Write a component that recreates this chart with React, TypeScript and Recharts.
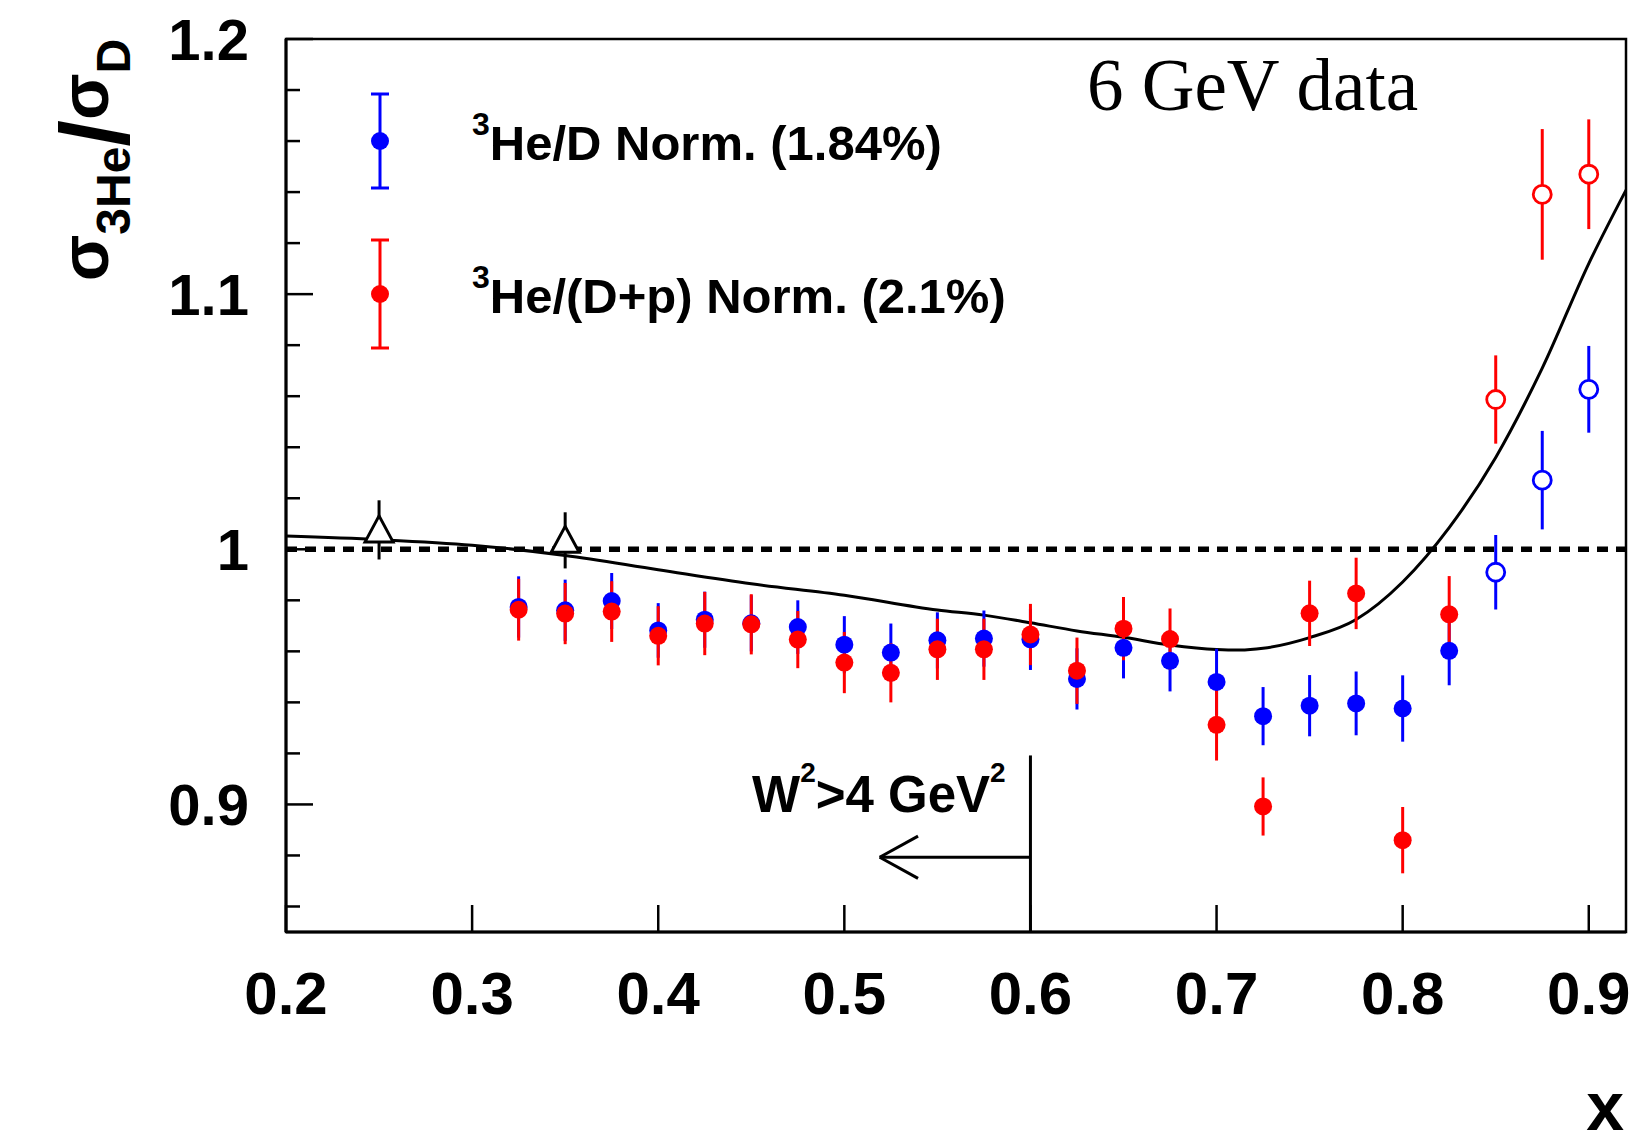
import React from 'react';
import {
  ComposedChart,
  Scatter,
  Line,
  XAxis,
  YAxis,
  ReferenceLine,
  ReferenceArea,
  ErrorBar,
  Customized,
} from 'recharts';

const BLUE = '#0000ff';
const RED = '#ff0000';
const SANS = '"Liberation Sans", Arial, Helvetica, sans-serif';
const SERIF = '"Liberation Serif", "Times New Roman", serif';

// x bins of the filled points
const xBins = [0.325, 0.35, 0.375, 0.4, 0.425, 0.45, 0.475, 0.5, 0.525, 0.55, 0.575, 0.6, 0.625, 0.65, 0.675, 0.7, 0.725, 0.75, 0.775, 0.8, 0.825];
// 3He/D
const ratioD = [0.9774, 0.9761, 0.9797, 0.9682, 0.9724, 0.971, 0.9695, 0.9626, 0.9595, 0.9643, 0.965, 0.9647, 0.9492, 0.9614, 0.9563, 0.948, 0.9346, 0.9387, 0.9396, 0.9376, 0.9602];
const ratioDErr = [0.012, 0.012, 0.011, 0.0107, 0.011, 0.011, 0.0105, 0.0112, 0.0114, 0.011, 0.011, 0.012, 0.012, 0.012, 0.012, 0.013, 0.0114, 0.012, 0.0125, 0.013, 0.0135];
// 3He/(D+p)
const ratioDp = [0.9763, 0.9748, 0.9756, 0.9661, 0.9709, 0.9706, 0.9646, 0.9556, 0.9516, 0.9608, 0.9608, 0.9666, 0.9524, 0.9689, 0.9648, 0.9312, 0.8992, 0.9749, 0.9827, 0.886, 0.9745];
const ratioDpErr = [0.0121, 0.012, 0.0119, 0.0116, 0.0124, 0.0118, 0.0112, 0.012, 0.0116, 0.012, 0.012, 0.012, 0.013, 0.0124, 0.012, 0.014, 0.0114, 0.0128, 0.014, 0.013, 0.015];

// open points (high x)
const highX = [0.85, 0.875, 0.9];
const highD = [0.991, 1.0271, 1.0627];
const highDErr = [0.0146, 0.0193, 0.017];
const highDp = [1.0587, 1.1391, 1.147];
const highDpErr = [0.0173, 0.0256, 0.0215];

// triangles
const triX = [0.25, 0.35];
const triY = [1.0076, 1.0035];
const triErr = [0.0116, 0.011];

// model curve
const modelX = [0.2, 0.25, 0.3, 0.35, 0.4, 0.45, 0.5, 0.55, 0.575, 0.6, 0.625, 0.65, 0.675, 0.7, 0.7125, 0.725, 0.75, 0.775, 0.8, 0.825, 0.85, 0.875, 0.9, 0.92];
const modelY = [1.0052, 1.0038, 1.0016, 0.9976, 0.992, 0.9865, 0.982, 0.9762, 0.9742, 0.9712, 0.968, 0.9655, 0.9625, 0.9607, 0.9605, 0.9612, 0.9654, 0.9725, 0.9872, 1.0085, 1.036, 1.071, 1.112, 1.1408];

const xTicks = [0.2, 0.3, 0.4, 0.5, 0.6, 0.7, 0.8, 0.9];
const yTicks = [0.86, 0.88, 0.9, 0.92, 0.94, 0.96, 0.98, 1.0, 1.02, 1.04, 1.06, 1.08, 1.1, 1.12, 1.14, 1.16, 1.18, 1.2];

// W^2 > 4 GeV^2 cut marker
const cutX = 0.6;
const cutTop = 0.9192;
const arrowY = 0.8793;
const arrowTip = 0.519;
const headX = 0.5396;
const headDy = 0.0083;

const pts = (xs: number[], ys: number[], es: number[]) => xs.map((x, i) => ({ x, y: ys[i], err: es[i] }));

const dData = pts(xBins, ratioD, ratioDErr);
const dpData = pts(xBins, ratioDp, ratioDpErr);
const highDData = pts(highX, highD, highDErr);
const highDpData = pts(highX, highDp, highDpErr);
const triData = pts(triX, triY, triErr);
const modelData = modelX.map((x, i) => ({ x, y: modelY[i] }));

const filled = (color: string) => (p: any) => <circle cx={p.cx} cy={p.cy} r={9} fill={color} />;
const open = (color: string) => (p: any) => (
  <circle cx={p.cx} cy={p.cy} r={9} fill="#fff" stroke={color} strokeWidth={2.8} />
);
const triangle = (p: any) => (
  <polygon
    points={`${p.cx},${p.cy - 14} ${p.cx - 14},${p.cy + 12} ${p.cx + 14},${p.cy + 12}`}
    fill="#fff"
    stroke="#000"
    strokeWidth={3}
  />
);

const XTick = ({ x, y, payload }: any) => (
  <g>
    <line x1={x} x2={x} y1={y} y2={y - 27} stroke="#000" strokeWidth={2.5} />
    <text x={x} y={y + 82} textAnchor="middle" fontFamily={SANS} fontWeight="bold" fontSize={60} fill="#000">
      {payload.value.toFixed(1)}
    </text>
  </g>
);

const YTick = ({ x, y, payload }: any) => {
  const v = payload.value;
  const major = Math.abs(v * 10 - Math.round(v * 10)) < 1e-6;
  return (
    <g>
      <line x1={x} x2={x + (major ? 27 : 14)} y1={y} y2={y} stroke="#000" strokeWidth={2.5} />
      {major && (
        <text x={x - 37} y={y + 21} textAnchor="end" fontFamily={SANS} fontWeight="bold" fontSize={58} fill="#000">
          {String(Number(v.toFixed(2)))}
        </text>
      )}
    </g>
  );
};

const Overlay = () => (
  <g fontFamily={SANS} fontWeight="bold" fill="#000">
    {/* legend */}
    <line x1={380} x2={380} y1={94} y2={188} stroke={BLUE} strokeWidth={3} />
    <line x1={371} x2={389} y1={94} y2={94} stroke={BLUE} strokeWidth={3} />
    <line x1={371} x2={389} y1={188} y2={188} stroke={BLUE} strokeWidth={3} />
    <circle cx={380} cy={141} r={9} fill={BLUE} />
    <line x1={380} x2={380} y1={240} y2={348} stroke={RED} strokeWidth={3} />
    <line x1={371} x2={389} y1={240} y2={240} stroke={RED} strokeWidth={3} />
    <line x1={371} x2={389} y1={348} y2={348} stroke={RED} strokeWidth={3} />
    <circle cx={380} cy={294} r={9} fill={RED} />
    <text x={472} y={160} fontSize={49}>
      <tspan fontSize={32} dy={-25}>3</tspan>
      <tspan dy={25}>He/D Norm. (1.84%)</tspan>
    </text>
    <text x={472} y={313} fontSize={49}>
      <tspan fontSize={32} dy={-25}>3</tspan>
      <tspan dy={25}>He/(D+p) Norm. (2.1%)</tspan>
    </text>

    {/* cut label */}
    <text x={752} y={812} fontSize={51}>
      W<tspan fontSize={28} dy={-30}>2</tspan>
      <tspan dy={30}>&gt;4 GeV</tspan>
      <tspan fontSize={28} dy={-30}>2</tspan>
    </text>

    <text x={1087} y={110} fontFamily={SERIF} fontWeight="normal" fontSize={73}>
      6 GeV data
    </text>

    {/* axis titles */}
    <text transform="translate(108,160) rotate(-90)" textAnchor="middle" fontSize={68}>
      σ<tspan fontSize={48} dy={22}>3He</tspan>
      <tspan fontSize={96} dy={-2}>/</tspan>
      <tspan dy={-20}>σ</tspan>
      <tspan fontSize={48} dy={22}>D</tspan>
    </text>
    <text x={1624} y={1130} textAnchor="end" fontSize={68}>
      x
    </text>
  </g>
);

export default function App() {
  return (
    <div style={{ position: 'absolute', left: 0, top: 0, background: '#fff' }}>
      <ComposedChart width={1645} height={1144} margin={{ top: 39, right: 19, bottom: 0, left: 0 }}>
        <XAxis
          type="number"
          dataKey="x"
          domain={[0.2, 0.92]}
          allowDataOverflow
          ticks={xTicks}
          interval={0}
          height={212}
          tickSize={0}
          tickMargin={0}
          tick={XTick}
          axisLine={{ stroke: '#000', strokeWidth: 3 }}
        />
        <YAxis
          type="number"
          dataKey="y"
          domain={[0.85, 1.2]}
          allowDataOverflow
          ticks={yTicks}
          interval={0}
          width={286}
          tickSize={0}
          tickMargin={0}
          tick={YTick}
          axisLine={{ stroke: '#000', strokeWidth: 3 }}
        />
        <ReferenceArea x1={0.2} x2={0.92} y1={0.85} y2={1.2} fill="#fff" fillOpacity={0} stroke="#000" strokeWidth={2.5} />
        <ReferenceLine y={1} stroke="#000" strokeWidth={5.5} strokeDasharray="11 8" />
        <ReferenceLine segment={[{ x: cutX, y: 0.85 }, { x: cutX, y: cutTop }]} stroke="#000" strokeWidth={3} />
        <ReferenceLine segment={[{ x: arrowTip, y: arrowY }, { x: cutX, y: arrowY }]} stroke="#000" strokeWidth={3} />
        <ReferenceLine segment={[{ x: arrowTip, y: arrowY }, { x: headX, y: arrowY + headDy }]} stroke="#000" strokeWidth={3} />
        <ReferenceLine segment={[{ x: arrowTip, y: arrowY }, { x: headX, y: arrowY - headDy }]} stroke="#000" strokeWidth={3} />

        <Line data={modelData} dataKey="y" type="monotone" stroke="#000" strokeWidth={3} dot={false} isAnimationActive={false} />

        <Scatter data={triData} shape={triangle} isAnimationActive={false}>
          <ErrorBar dataKey="err" direction="y" width={0} stroke="#000" strokeWidth={3} isAnimationActive={false} />
        </Scatter>
        <Scatter data={dData} shape={filled(BLUE)} isAnimationActive={false}>
          <ErrorBar dataKey="err" direction="y" width={0} stroke={BLUE} strokeWidth={3} isAnimationActive={false} />
        </Scatter>
        <Scatter data={highDData} shape={open(BLUE)} isAnimationActive={false}>
          <ErrorBar dataKey="err" direction="y" width={0} stroke={BLUE} strokeWidth={3} isAnimationActive={false} />
        </Scatter>
        <Scatter data={dpData} shape={filled(RED)} isAnimationActive={false}>
          <ErrorBar dataKey="err" direction="y" width={0} stroke={RED} strokeWidth={3} isAnimationActive={false} />
        </Scatter>
        <Scatter data={highDpData} shape={open(RED)} isAnimationActive={false}>
          <ErrorBar dataKey="err" direction="y" width={0} stroke={RED} strokeWidth={3} isAnimationActive={false} />
        </Scatter>

        <Customized component={Overlay} />
      </ComposedChart>
    </div>
  );
}
